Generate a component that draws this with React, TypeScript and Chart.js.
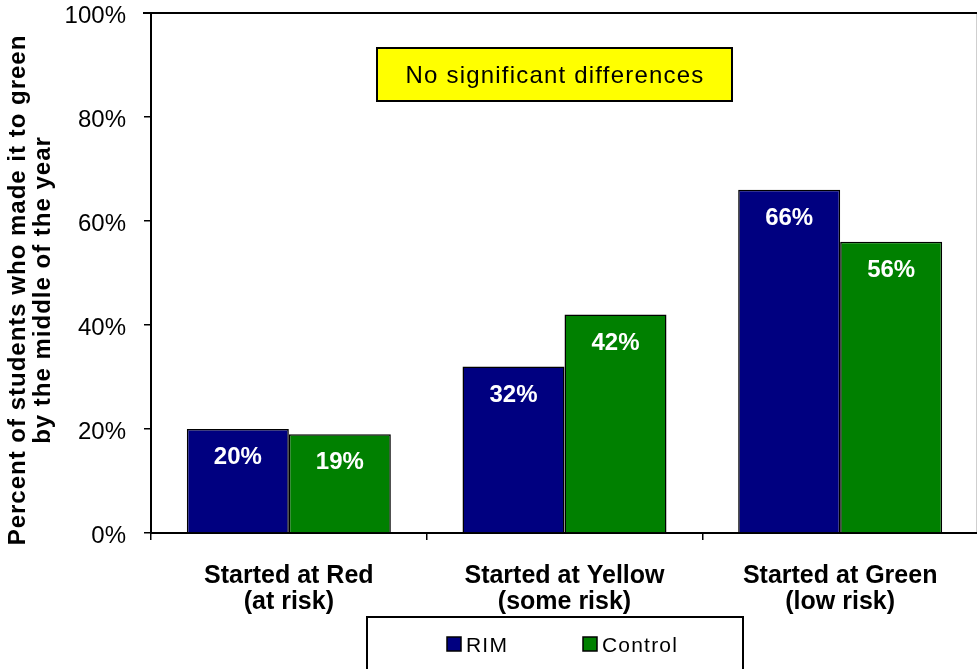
import React, { useEffect, useRef } from 'react';
import { Chart, registerables } from 'chart.js';

Chart.register(...registerables);

// Chart content
const categories: string[][] = [
  ['Started at Red', '(at risk)'],
  ['Started at Yellow', '(some risk)'],
  ['Started at Green', '(low risk)'],
];
const seriesNames = ['RIM', 'Control'];
const rimValues = [20, 32, 66];
const controlValues = [19, 42, 56];
const yTickValues = [0, 20, 40, 60, 80, 100];
const yTitleLines = ['Percent of students who made it to green', 'by the middle of the year'];
const noteText = 'No significant differences';

const FONT = '"Liberation Sans", Arial, Helvetica, sans-serif';
const RIM_COLOR = '#000080';
const CONTROL_COLOR = '#008000';

const overlayPlugin = {
  id: 'overlay',
  afterDraw(chart: any) {
    const { ctx, chartArea } = chart;
    const { top, bottom, left } = chartArea;
    ctx.save();

    // top frame line and faint right edge
    ctx.strokeStyle = '#000';
    ctx.lineWidth = 2;
    ctx.beginPath();
    ctx.moveTo(left - 8, top);
    ctx.lineTo(chart.width, top);
    ctx.stroke();
    ctx.strokeStyle = '#cfcfcf';
    ctx.lineWidth = 1;
    ctx.beginPath();
    ctx.moveTo(976.5, top + 1);
    ctx.lineTo(976.5, bottom - 1);
    ctx.stroke();

    // value labels inside the bars
    ctx.fillStyle = '#fff';
    ctx.font = `bold 24px ${FONT}`;
    ctx.textAlign = 'center';
    ctx.textBaseline = 'alphabetic';
    chart.data.datasets.forEach((ds: any, i: number) => {
      const meta = chart.getDatasetMeta(i);
      meta.data.forEach((bar: any, j: number) => {
        ctx.fillText(`${ds.data[j]}%`, bar.x, bar.y + 35);
      });
    });

    // note box
    ctx.fillStyle = '#ffff00';
    ctx.fillRect(377, 48, 355, 53);
    ctx.strokeStyle = '#000';
    ctx.lineWidth = 2;
    ctx.strokeRect(377, 48, 355, 53);
    ctx.fillStyle = '#000';
    ctx.font = `24px ${FONT}`;
    (ctx as any).letterSpacing = '1.2px';
    ctx.textAlign = 'center';
    ctx.textBaseline = 'middle';
    ctx.fillText(noteText, 555, 76);
    (ctx as any).letterSpacing = '0px';

    // legend box
    ctx.fillStyle = '#fff';
    ctx.fillRect(367, 617, 376, 60);
    ctx.strokeStyle = '#000';
    ctx.lineWidth = 2;
    ctx.strokeRect(367, 617, 376, 60);
    const legendItems = [
      { name: seriesNames[0], color: RIM_COLOR, x: 447 },
      { name: seriesNames[1], color: CONTROL_COLOR, x: 583 },
    ];
    ctx.font = `21px ${FONT}`;
    (ctx as any).letterSpacing = '1.2px';
    ctx.textAlign = 'left';
    ctx.textBaseline = 'middle';
    legendItems.forEach((it) => {
      ctx.fillStyle = it.color;
      ctx.fillRect(it.x, 637, 14, 14);
      ctx.strokeStyle = '#000';
      ctx.lineWidth = 1.5;
      ctx.strokeRect(it.x, 637, 14, 14);
      ctx.fillStyle = '#000';
      ctx.fillText(it.name, it.x + 19, 646);
    });
    (ctx as any).letterSpacing = '0px';

    // rotated y-axis title
    ctx.save();
    ctx.translate(0, 290);
    ctx.rotate(-Math.PI / 2);
    ctx.font = `bold 24px ${FONT}`;
    (ctx as any).letterSpacing = '1px';
    ctx.fillStyle = '#000';
    ctx.textAlign = 'center';
    ctx.textBaseline = 'alphabetic';
    ctx.fillText(yTitleLines[0], 0, 25);
    ctx.fillText(yTitleLines[1], 0, 50);
    ctx.restore();

    ctx.restore();
  },
};

export default function App() {
  const canvasRef = useRef<HTMLCanvasElement | null>(null);

  useEffect(() => {
    const canvas = canvasRef.current;
    if (!canvas) return;
    const chart = new Chart(canvas, {
      type: 'bar',
      data: {
        labels: categories,
        datasets: [
          {
            label: seriesNames[0],
            data: rimValues,
            backgroundColor: RIM_COLOR,
            borderColor: '#000',
            borderWidth: 1.5,
            categoryPercentage: 0.74,
            barPercentage: 1.0,
          },
          {
            label: seriesNames[1],
            data: controlValues,
            backgroundColor: CONTROL_COLOR,
            borderColor: '#000',
            borderWidth: 1.5,
            categoryPercentage: 0.74,
            barPercentage: 1.0,
          },
        ],
      },
      options: {
        animation: false,
        responsive: false,
        maintainAspectRatio: false,
        layout: { padding: { top: 13, right: 1, left: 0, bottom: 0 } },
        plugins: { legend: { display: false }, tooltip: { enabled: false } },
        scales: {
          x: {
            grid: {
              offset: true,
              drawOnChartArea: false,
              drawTicks: true,
              tickLength: 7,
              color: '#000',
              lineWidth: 1.5,
            },
            border: { display: true, color: '#000', width: 2 },
            ticks: {
              color: '#000',
              font: { family: FONT, size: 25, weight: 'bold', lineHeight: 1.04 },
              padding: 23,
              maxRotation: 0,
              autoSkip: false,
            },
            afterFit: (s: any) => {
              s.height = 136;
              s.paddingLeft = 0;
              s.paddingRight = 0;
            },
          },
          y: {
            min: 0,
            max: 100,
            afterBuildTicks: (s: any) => {
              s.ticks = yTickValues.map((v) => ({ value: v }));
            },
            grid: {
              drawOnChartArea: false,
              tickLength: 7,
              color: '#000',
              lineWidth: 1.5,
            },
            border: { color: '#000', width: 2 },
            ticks: {
              callback: (v: any) => `${v}%`,
              font: { family: FONT, size: 24 },
              color: '#000',
              padding: 18,
              labelOffset: 3,
            },
            afterFit: (s: any) => {
              s.width = 151;
              s.paddingTop = 0;
              s.paddingBottom = 0;
            },
          },
        },
      },
      plugins: [overlayPlugin],
    } as any);
    return () => chart.destroy();
  }, []);

  return (
    <div
      style={{
        position: 'absolute',
        left: 0,
        top: 0,
        width: 977,
        height: 669,
        overflow: 'hidden',
        background: '#fff',
      }}
    >
      <canvas ref={canvasRef} width={979} height={669} style={{ width: 979, height: 669, display: 'block' }} />
    </div>
  );
}
